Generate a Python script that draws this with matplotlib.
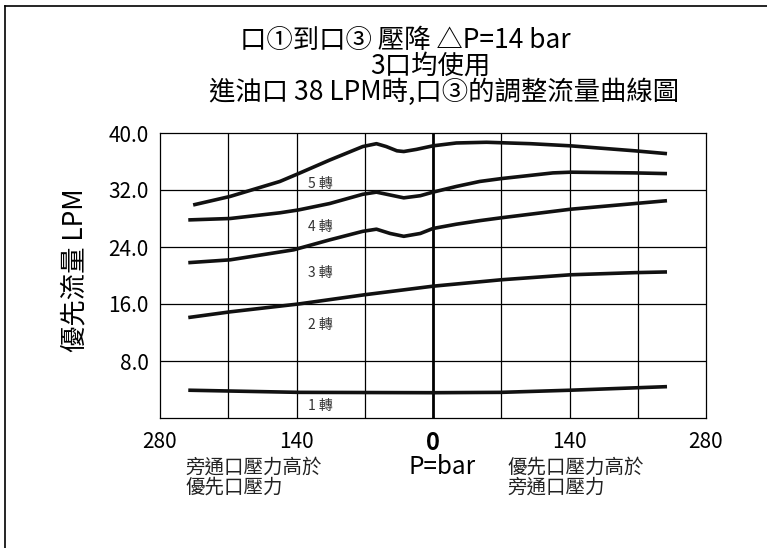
import matplotlib
matplotlib.use("Agg")
import matplotlib.pyplot as plt
from matplotlib.lines import Line2D

plt.rcParams['font.family'] = ['Noto Sans CJK TC', 'DejaVu Sans']

# pressure (bar), negative = bypass side higher
x5 = [-246, -208, -157, -138, -106, -72, -58, -48, -37, -30, -17, 0, 24, 55, 100, 141, 207, 240]
y5 = [29.9, 31.1, 33.2, 34.3, 36.2, 38.1, 38.5, 38.1, 37.5, 37.4, 37.7, 38.2, 38.6, 38.7, 38.5, 38.2, 37.5, 37.1]

x4 = [-251, -208, -157, -138, -106, -72, -58, -44, -30, -13, 0, 24, 48, 70, 123, 141, 207, 240]
y4 = [27.8, 28.0, 28.8, 29.2, 30.1, 31.4, 31.7, 31.3, 30.9, 31.2, 31.7, 32.5, 33.2, 33.6, 34.4, 34.5, 34.4, 34.3]

x3 = [-251, -208, -143, -106, -72, -58, -44, -30, -13, 0, 24, 48, 70, 141, 207, 240]
y3 = [21.8, 22.2, 23.6, 25.0, 26.2, 26.5, 25.9, 25.5, 25.9, 26.6, 27.2, 27.7, 28.1, 29.3, 30.1, 30.5]

x2 = [-251, -208, -138, -70, 0, 70, 141, 207, 240]
y2 = [14.1, 14.9, 16.0, 17.3, 18.5, 19.4, 20.1, 20.4, 20.5]

x1 = [-251, -138, 0, 70, 141, 240]
y1 = [3.9, 3.6, 3.55, 3.6, 3.9, 4.4]

curve_labels = ['5 轉', '4 轉', '3 轉', '2 轉', '1 轉']
label_y = [32.9, 26.8, 20.3, 13.0, 1.7]
label_x = -128

xticks = [-280, -140, 0, 140, 280]
xtick_labels = ['280', '140', '0', '140', '280']
xgrid = [-210, -140, -70, 70, 140, 210]
yticks = [8, 16, 24, 32, 40]
ytick_labels = ['8.0', '16.0', '24.0', '32.0', '40.0']

W, H = 767, 548
fig = plt.figure(figsize=(W / 100, H / 100), dpi=100)
ax = fig.add_axes([160 / W, 1 - 418 / H, 546 / W, 285 / H])

# frame around the figure (only top and left visible in the original)
fig.add_artist(Line2D([4.5 / W, 4.5 / W], [0, 1 - 6 / H], transform=fig.transFigure, color='black', lw=1.2))
fig.add_artist(Line2D([4.5 / W, 1], [1 - 6 / H, 1 - 6 / H], transform=fig.transFigure, color='black', lw=1.2))

for xs, ys in [(x5, y5), (x4, y4), (x3, y3), (x2, y2), (x1, y1)]:
    ax.plot(xs, ys, color='#111111', lw=2.6, solid_joinstyle='round', solid_capstyle='butt', zorder=3)

for lbl, ly in zip(curve_labels, label_y):
    ax.text(label_x, ly, lbl, fontsize=10, ha='left', va='center', color='#333333')

for g in xgrid:
    ax.axvline(g, color='black', lw=0.9, zorder=1)
for g in yticks[:-1]:
    ax.axhline(g, color='black', lw=0.9, zorder=1)
ax.axvline(0, color='black', lw=2.0, zorder=2)

ax.set_xlim(-280, 280)
ax.set_ylim(0, 40)
ax.set_xticks(xticks)
ax.set_xticklabels(xtick_labels, fontsize=15)
ax.set_yticks(yticks)
ax.set_yticklabels(ytick_labels, fontsize=15)
ax.tick_params(axis='x', length=0, pad=9)
ax.tick_params(axis='y', length=0, pad=8)
ax.get_xticklabels()[2].set_fontweight('bold')
ax.get_xticklabels()[2].set_fontsize(17)
for s in ax.spines.values():
    s.set_linewidth(0.9)

fig.text(75 / W, 1 - 270 / H, '優先流量 LPM', fontsize=19, rotation=90, ha='center', va='center')

# title lines
fig.text(405 / W, 1 - 41 / H, '口①到口③ 壓降 △P=14 bar', fontsize=19, ha='center', va='center')
fig.text(430 / W, 1 - 66 / H, '3口均使用', fontsize=19, ha='center', va='center')
fig.text(444 / W, 1 - 92 / H, '進油口 38 LPM時,口③的調整流量曲線圖', fontsize=19, ha='center', va='center')

# bottom notes
fig.text(442 / W, 1 - 467 / H, 'P=bar', fontsize=17.5, ha='center', va='center')
fig.text(185 / W, 1 - 467 / H, '旁通口壓力高於', fontsize=14, ha='left', va='center', color='#222222')
fig.text(185 / W, 1 - 487 / H, '優先口壓力', fontsize=14, ha='left', va='center', color='#222222')
fig.text(507 / W, 1 - 467 / H, '優先口壓力高於', fontsize=14, ha='left', va='center', color='#222222')
fig.text(507 / W, 1 - 487 / H, '旁通口壓力', fontsize=14, ha='left', va='center', color='#222222')

fig.savefig('out.png', dpi=100)
